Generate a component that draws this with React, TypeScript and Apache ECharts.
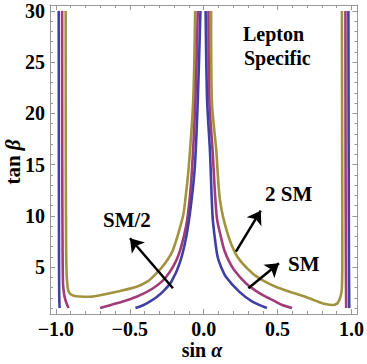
import React, { useEffect, useRef } from 'react';
import * as echarts from 'echarts';

// ---- tick values ----
const xTicks = [-1, -0.5, 0, 0.5, 1];
const xMinorTicks = [-1, -0.9, -0.8, -0.7, -0.6, -0.5, -0.4, -0.3, -0.2, -0.1, 0, 0.1, 0.2, 0.3, 0.4, 0.5, 0.6, 0.7, 0.8, 0.9, 1];
const yTicks = [5, 10, 15, 20, 25, 30];
const yMinorTicks = [1, 2, 3, 4, 5, 6, 7, 8, 9, 10, 11, 12, 13, 14, 15, 16, 17, 18, 19, 20, 21, 22, 23, 24, 25, 26, 27, 28, 29, 30];

// ---- curves (sin alpha, tan beta) ----
// SM/2 (blue)
const blueEdgeLeft = [[-0.981, 30], [-0.980, 15], [-0.979, 6], [-0.978, 3], [-0.977, 1.8], [-0.975, 1]];
const blueCenterLeft = [[-0.462, 1], [-0.41, 1.28], [-0.365, 1.62], [-0.32, 2.05], [-0.276, 2.6], [-0.219, 3.57], [-0.163, 5.37], [-0.118, 7.97], [-0.085, 11.2], [-0.06, 14.8], [-0.04, 21.3], [-0.022, 30]];
const blueCenterRight = [[0.013, 30], [0.023, 21.3], [0.042, 16.4], [0.060, 9.92], [0.077, 7.64], [0.094, 6.01], [0.117, 5.04], [0.150, 4.06], [0.240, 2.6], [0.329, 1.62], [0.428, 1]];
const blueEdgeRight = [[0.979, 30], [0.981, 15], [0.983, 5], [0.985, 1]];
// SM (magenta)
const magentaEdgeLeft = [[-0.958, 30], [-0.957, 15], [-0.955, 7], [-0.952, 3.4], [-0.945, 2.4], [-0.936, 1.8], [-0.925, 1.35], [-0.914, 1]];
const magentaCenterLeft = [[-0.701, 1], [-0.589, 1.46], [-0.454, 2.11], [-0.343, 2.93], [-0.253, 4.06], [-0.175, 6.01], [-0.12, 8.94], [-0.096, 11.5], [-0.078, 14.8], [-0.056, 21.3], [-0.040, 30]];
const magentaCenterRight = [[0.032, 30], [0.038, 21.3], [0.060, 16.4], [0.088, 9.92], [0.117, 7.9], [0.139, 6.67], [0.170, 5.6], [0.206, 4.72], [0.285, 3.42], [0.35, 2.7], [0.419, 2.11], [0.48, 1.68], [0.531, 1.3], [0.598, 1]];
const magentaEdgeRight = [[0.959, 30], [0.960, 15], [0.962, 5], [0.964, 1]];
// 2 SM (olive)
const oliveLeft = [[-0.934, 30], [-0.933, 15], [-0.931, 7], [-0.928, 4.5], [-0.924, 3.5], [-0.917, 2.75], [-0.903, 2.38], [-0.88, 2.2], [-0.84, 2.13], [-0.768, 2.1], [-0.667, 2.35], [-0.589, 2.6], [-0.454, 3.08], [-0.38, 3.6], [-0.320, 4.39], [-0.26, 5.4], [-0.208, 6.67], [-0.141, 9.92], [-0.125, 11.5], [-0.101, 14.8], [-0.071, 21.3], [-0.058, 30]];
const oliveRight = [[0.050, 30], [0.055, 21.3], [0.085, 16.4], [0.110, 11.55], [0.161, 8.3], [0.228, 6.01], [0.329, 4.39], [0.40, 3.7], [0.487, 3.08], [0.59, 2.55], [0.688, 2.11], [0.76, 1.7], [0.823, 1.39], [0.878, 1.3], [0.90, 1.4], [0.912, 1.62], [0.925, 2.1], [0.934, 2.76], [0.937, 4], [0.938, 5.04], [0.937, 15], [0.935, 30]];

// ---- annotation arrows: [tail, head] in data coords ----
const arrowSMhalf = [[-0.208, 2.93], [-0.499, 7.81]];
const arrow2SM = [[0.218, 6.5], [0.386, 10.5]];
const arrowSM = [[0.302, 2.93], [0.509, 5.37]];

const BLUE = '#4040a4';
const MAGENTA = '#a03d78';
const OLIVE = '#a29340';
const FRAME = '#999999';
const SERIF = 'Liberation Serif';

const fmtX = (v: number) => {
  const s = Math.abs(v).toFixed(1);
  return v < -1e-9 ? '\u2212' + s : s;
};

const txt = (size: number, italic = false) => ({
  fontFamily: SERIF,
  fontWeight: 'bold',
  fontStyle: italic ? 'italic' : 'normal',
  fontSize: size,
  fill: '#000',
});

export default function App() {
  const ref = useRef<HTMLDivElement>(null);
  useEffect(() => {
    if (!ref.current) return;
    const chart = echarts.init(ref.current, undefined, { renderer: 'svg' });
    const curve = (data: number[][], color: string, extra: any = {}) => ({
      type: 'line',
      data,
      xAxisIndex: 0,
      yAxisIndex: 0,
      symbol: 'none',
      showSymbol: false,
      smooth: 0.3,
      silent: true,
      clip: true,
      lineStyle: { color, width: 2.6 },
      itemStyle: { color },
      ...extra,
    });
    const xBase = { type: 'value', min: -1.04, max: 1.04, splitLine: { show: false }, gridIndex: 0 };
    const yBase = { type: 'value', min: 0.42, max: 30.58, splitLine: { show: false }, gridIndex: 0 };
    const noLabel = { show: false };
    chart.setOption({
      animation: false,
      backgroundColor: '#fff',
      grid: { left: 50, right: 8, top: 5, bottom: 50, containLabel: false },
      xAxis: [
        {
          ...xBase, position: 'bottom',
          axisLine: { show: true, onZero: false, lineStyle: { color: FRAME, width: 1 } },
          axisTick: { show: true, inside: true, length: 5, customValues: xTicks, lineStyle: { color: FRAME } },
          axisLabel: { show: true, customValues: xTicks, formatter: fmtX, color: '#000', fontFamily: SERIF, fontWeight: 'bold', fontSize: 20, margin: 5 },
        },
        {
          ...xBase, position: 'bottom',
          axisLine: { show: false, onZero: false },
          axisTick: { show: true, inside: true, length: 3, customValues: xMinorTicks, lineStyle: { color: FRAME } },
          axisLabel: noLabel,
        },
        {
          ...xBase, position: 'top',
          axisLine: { show: true, onZero: false, lineStyle: { color: FRAME, width: 1 } },
          axisTick: { show: true, inside: true, length: 5, customValues: xTicks, lineStyle: { color: FRAME } },
          axisLabel: noLabel,
        },
        {
          ...xBase, position: 'top',
          axisLine: { show: false, onZero: false },
          axisTick: { show: true, inside: true, length: 3, customValues: xMinorTicks, lineStyle: { color: FRAME } },
          axisLabel: noLabel,
        },
      ],
      yAxis: [
        {
          ...yBase, position: 'left',
          axisLine: { show: true, onZero: false, lineStyle: { color: FRAME, width: 1 } },
          axisTick: { show: true, inside: true, length: 5, customValues: yTicks, lineStyle: { color: FRAME } },
          axisLabel: { show: true, customValues: yTicks, formatter: (v: number) => String(Math.round(v)), color: '#000', fontFamily: SERIF, fontWeight: 'bold', fontSize: 20, margin: 5 },
        },
        {
          ...yBase, position: 'left',
          axisLine: { show: false, onZero: false },
          axisTick: { show: true, inside: true, length: 3, customValues: yMinorTicks, lineStyle: { color: FRAME } },
          axisLabel: noLabel,
        },
        {
          ...yBase, position: 'right',
          axisLine: { show: true, onZero: false, lineStyle: { color: FRAME, width: 1 } },
          axisTick: { show: true, inside: true, length: 5, customValues: yTicks, lineStyle: { color: FRAME } },
          axisLabel: noLabel,
        },
        {
          ...yBase, position: 'right',
          axisLine: { show: false, onZero: false },
          axisTick: { show: true, inside: true, length: 3, customValues: yMinorTicks, lineStyle: { color: FRAME } },
          axisLabel: noLabel,
        },
      ],
      series: [
        curve(oliveLeft, OLIVE),
        curve(oliveRight, OLIVE),
        curve(magentaEdgeLeft, MAGENTA),
        curve(magentaCenterLeft, MAGENTA),
        curve(magentaCenterRight, MAGENTA),
        curve(magentaEdgeRight, MAGENTA),
        curve(blueEdgeLeft, BLUE),
        curve(blueCenterLeft, BLUE),
        curve(blueCenterRight, BLUE),
        curve(blueEdgeRight, BLUE, {
          markLine: {
            silent: true,
            animation: false,
            symbol: ['none', 'arrow'],
            symbolSize: 13,
            label: { show: false },
            lineStyle: { color: '#000', width: 2.5, type: 'solid' },
            emphasis: { disabled: true },
            data: [arrowSMhalf, arrow2SM, arrowSM].map((a) => [
              { coord: a[0] },
              { coord: a[1] },
            ]),
          },
        }),
      ],
      graphic: [
        { type: 'text', left: 243, top: 24, style: { text: 'Lepton', ...txt(20) } },
        { type: 'text', left: 244, top: 48, style: { text: 'Specific', ...txt(20) } },
        { type: 'text', left: 103, top: 209, style: { text: 'SM/2', ...txt(21) } },
        { type: 'text', left: 265, top: 183, style: { text: '2 SM', ...txt(21) } },
        { type: 'text', left: 288, top: 253, style: { text: 'SM', ...txt(21) } },
        {
          type: 'text', x: 202, y: 350,
          style: {
            text: '{b|sin }{i|\u03b1}', align: 'center', verticalAlign: 'middle',
            rich: { b: txt(20), i: txt(20, true) },
          },
        },
        {
          type: 'text', x: 13, y: 162, rotation: Math.PI / 2,
          style: {
            text: '{b|tan }{i|\u03b2}', align: 'center', verticalAlign: 'middle',
            rich: { b: txt(21), i: txt(21, true) },
          },
        },
      ],
    });
    return () => chart.dispose();
  }, []);
  return <div ref={ref} style={{ width: 367, height: 364, position: 'absolute', left: 0, top: 0 }} />;
}
